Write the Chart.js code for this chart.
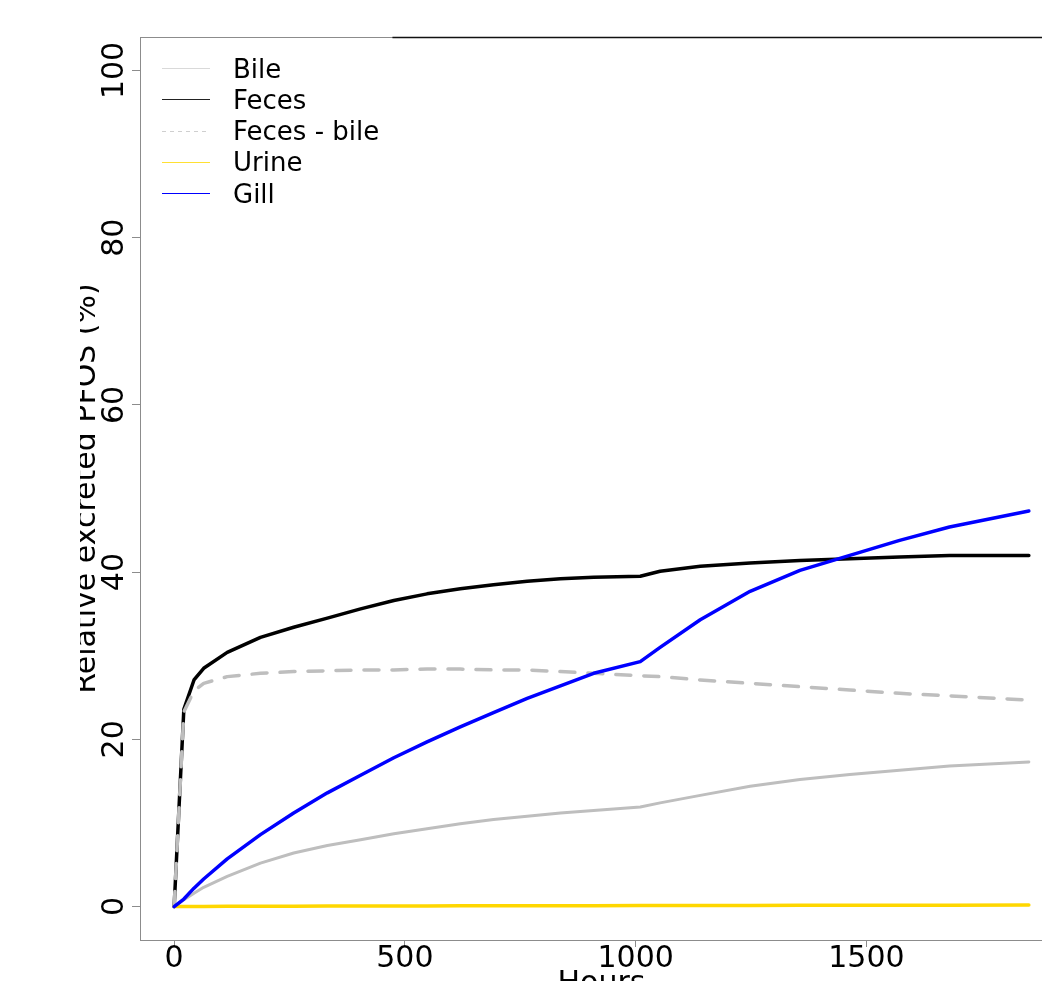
<!DOCTYPE html>
<html>
<head>
<meta charset="utf-8">
<script src="https://cdn.jsdelivr.net/npm/chart.js@4/dist/chart.umd.min.js"></script>
<style>
  html, body { margin: 0; padding: 0; background: #fff; }
  #wrap { width: 1042px; height: 981px; overflow: hidden; }
</style>
</head>
<body>
<div id="wrap"><canvas id="myChart" width="1064" height="981"></canvas></div>
<script>
// values (hours vs. relative excreted %)
var hours = [0, 21, 43, 64, 115, 187, 259, 332, 404, 476, 548, 620, 692, 765, 837, 909, 1010, 1053, 1140, 1248, 1356, 1464, 1572, 1680, 1852];
var bile = [0, 0.8, 1.6, 2.3, 3.6, 5.2, 6.4, 7.3, 8.0, 8.7, 9.3, 9.9, 10.4, 10.8, 11.2, 11.5, 11.9, 12.4, 13.3, 14.4, 15.2, 15.8, 16.3, 16.8, 17.3];
var feces = [0, 23.6, 27.1, 28.5, 30.4, 32.2, 33.4, 34.5, 35.6, 36.6, 37.4, 38.0, 38.5, 38.9, 39.2, 39.4, 39.5, 40.1, 40.7, 41.1, 41.4, 41.6, 41.8, 42.0, 42.0];
var fecesBile = [0, 23.3, 25.8, 26.7, 27.5, 27.9, 28.1, 28.2, 28.3, 28.3, 28.4, 28.4, 28.3, 28.3, 28.1, 27.9, 27.6, 27.5, 27.1, 26.7, 26.3, 25.9, 25.5, 25.2, 24.7];
var urine = [0, 0.01, 0.01, 0.02, 0.03, 0.04, 0.05, 0.06, 0.07, 0.08, 0.08, 0.09, 0.1, 0.1, 0.11, 0.11, 0.12, 0.12, 0.13, 0.14, 0.15, 0.15, 0.16, 0.17, 0.18];
var gill = [0, 0.9, 2.2, 3.3, 5.7, 8.6, 11.2, 13.6, 15.7, 17.8, 19.7, 21.5, 23.2, 24.9, 26.4, 27.9, 29.3, 31.0, 34.3, 37.7, 40.2, 42.0, 43.8, 45.4, 47.3];

var seriesNames = ["Bile", "Feces", "Feces - bile", "Urine", "Gill"];
var xTicks = [0, 500, 1000, 1500];
var yTicks = [0, 20, 40, 60, 80, 100];

function toPoints(values) {
  return hours.map(function (h, i) { return { x: h, y: values[i] }; });
}

// legend sample colours (thin lines, as in the picture)
var legendColors = ["#d9d9d9", "#222222", "#cfcfcf", "#ffe033", "#0000ff"];

var axisText = {
  id: "axisText",
  afterDraw: function (chart) {
    var ctx = chart.ctx;
    var xs = chart.scales.x;
    var ys = chart.scales.y;
    var area = chart.chartArea;
    ctx.save();

    // top border: grey part then black part
    ctx.lineWidth = 1;
    ctx.strokeStyle = "#8c8c8c";
    ctx.beginPath();
    ctx.moveTo(area.left, area.top + 0.5);
    ctx.lineTo(area.right, area.top + 0.5);
    ctx.stroke();
    ctx.strokeStyle = "#111";
    ctx.lineWidth = 1.5;
    ctx.beginPath();
    ctx.moveTo(xs.getPixelForValue(473), area.top + 0.5);
    ctx.lineTo(area.right, area.top + 0.5);
    ctx.stroke();

    ctx.fillStyle = "#000";
    ctx.font = "30px 'DejaVu Sans'";
    ctx.textBaseline = "alphabetic";
    ctx.textAlign = "center";
    xTicks.forEach(function (v) {
      ctx.fillText(String(v), xs.getPixelForValue(v), area.bottom + 27);
    });
    yTicks.forEach(function (v) {
      ctx.save();
      ctx.translate(area.left - 17, ys.getPixelForValue(v));
      ctx.rotate(-Math.PI / 2);
      ctx.fillText(String(v), 0, 0);
      ctx.restore();
    });

    // x title, mostly cut off at the bottom
    ctx.fillText("Hours", (area.left + area.right) / 2, area.bottom + 52);

    // y title, clipped on its left side
    ctx.save();
    ctx.beginPath();
    ctx.rect(80, 0, area.left - 80, chart.height);
    ctx.clip();
    ctx.font = "30px 'DejaVu Sans'";
    ctx.translate(95, (area.top + area.bottom) / 2);
    ctx.rotate(-Math.PI / 2);
    ctx.fillText("Relative excreted PFOS (%)", 0, 0);
    ctx.restore();

    // legend
    ctx.font = "26px 'DejaVu Sans'";
    ctx.textAlign = "left";
    chart.data.datasets.forEach(function (ds, i) {
      var y = 68 + i * 31.3;
      ctx.save();
      ctx.strokeStyle = legendColors[i];
      ctx.lineWidth = 1;
      if (ds.borderDash && ds.borderDash.length) ctx.setLineDash([4, 4]);
      ctx.beginPath();
      ctx.moveTo(162, Math.round(y) + 0.5);
      ctx.lineTo(210, Math.round(y) + 0.5);
      ctx.stroke();
      ctx.restore();
      ctx.fillText(ds.label, 233, y + 9.5);
    });

    ctx.restore();
  },
};

var ctx = document.getElementById("myChart").getContext("2d");
var chart = new Chart(ctx, {
  type: "line",
  data: {
    datasets: [
      { label: seriesNames[0], data: toPoints(bile), borderColor: "#bebebe", borderWidth: 3, order: 5 },
      { label: seriesNames[1], data: toPoints(feces), borderColor: "#000000", borderWidth: 3.5, order: 4 },
      { label: seriesNames[2], data: toPoints(fecesBile), borderColor: "#bebebe", borderWidth: 3.5, borderDash: [15, 13], order: 3 },
      { label: seriesNames[3], data: toPoints(urine), borderColor: "#ffd700", borderWidth: 3.5, order: 2 },
      { label: seriesNames[4], data: toPoints(gill), borderColor: "#0000ff", borderWidth: 3.5, order: 1 },
    ],
  },
  options: {
    responsive: false,
    animation: false,
    layout: { padding: { top: 37, right: 1, bottom: 0, left: 0 } },
    elements: {
      point: { radius: 0 },
      line: { tension: 0, fill: false, borderCapStyle: "round", borderJoinStyle: "round" },
    },
    plugins: { legend: { display: false }, tooltip: { enabled: false } },
    scales: {
      x: {
        type: "linear",
        min: -74,
        max: 1926,
        afterBuildTicks: function (scale) {
          scale.ticks = xTicks.map(function (v) { return { value: v }; });
        },
        afterFit: function (scale) { scale.height = 41; },
        ticks: { display: false },
        grid: { drawOnChartArea: false, drawTicks: true, tickLength: 7, color: "#8c8c8c" },
        border: { display: true, color: "#8c8c8c", width: 1 },
      },
      y: {
        type: "linear",
        min: -4,
        max: 104,
        afterBuildTicks: function (scale) {
          scale.ticks = yTicks.map(function (v) { return { value: v }; });
        },
        afterFit: function (scale) { scale.width = 140; },
        ticks: { display: false },
        grid: { drawOnChartArea: false, drawTicks: true, tickLength: 8, color: "#8c8c8c" },
        border: { display: true, color: "#8c8c8c", width: 1 },
      },
    },
  },
  plugins: [axisText],
});
</script>
</body>
</html>
